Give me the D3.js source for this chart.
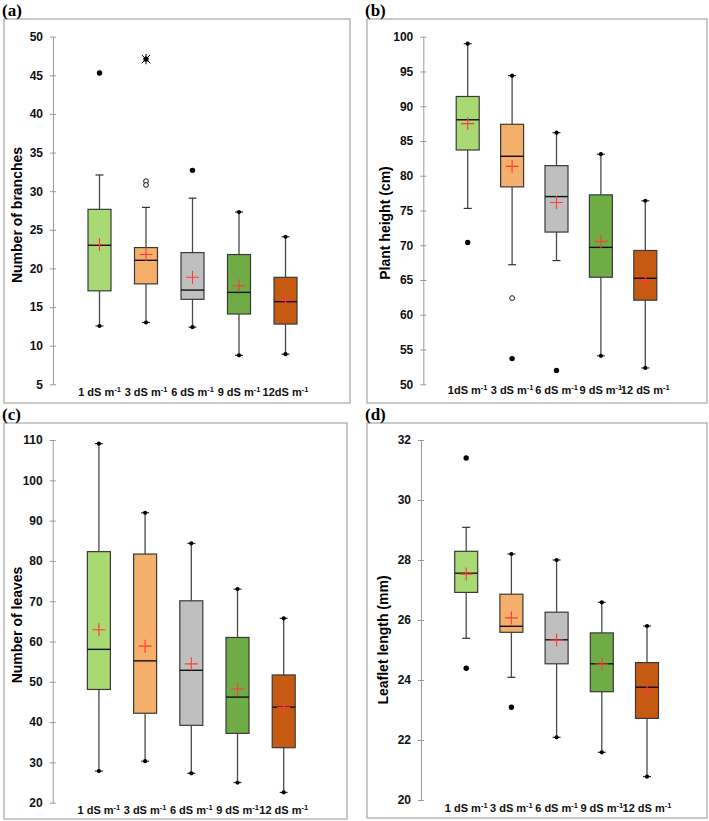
<!DOCTYPE html>
<html>
<head>
<meta charset="utf-8">
<script src="https://cdn.jsdelivr.net/npm/d3@7"></script>
<style>
body { margin: 0; background: #fff; }
svg { display: block; }
</style>
</head>
<body>
<svg id="chart" width="709" height="821"></svg>
<script>
/* salinity levels, colours */
var colours = ["#A9D972", "#F4AF6B", "#BFBFBF", "#6FAC45", "#C65A13"];
var sans = "font-family: 'Liberation Sans', Arial, sans-serif; font-weight: bold; ";

/* (a) number of branches */
var a_labels = ["1 dS m", "3 dS m", "6 dS m", "9 dS m", "12dS m"];
var a_ticks = [5, 10, 15, 20, 25, 30, 35, 40, 45, 50];
var a_lo = [12.55, 13.0, 12.4, 8.75, 8.9];
var a_q1 = [17.1, 18.0, 16.0, 14.1, 12.8];
var a_med = [23.0, 21.05, 17.2, 16.9, 15.7];
var a_q3 = [27.65, 22.7, 22.05, 21.8, 18.85];
var a_hi = [32.1, 27.9, 29.1, 27.3, 24.1];
var a_mean = [23.1, 21.8, 18.85, 17.75, 15.9];
var a_min = [12.55, 13.0, 12.4, 8.75, 8.9];
var a_max = [45.3, 47.1, 32.7, 27.3, 24.1];
var a_out = [[], [31.3, 30.8], [], [], []];
var a_ext = [[], [47.1], [], [], []];

/* (b) plant height */
var b_labels = ["1dS m", "3 dS m", "6 dS m", "9 dS m", "12 dS m"];
var b_ticks = [50, 55, 60, 65, 70, 75, 80, 85, 90, 95, 100];
var b_lo = [75.3, 67.2, 67.8, 54.1, 52.35];
var b_q1 = [83.7, 78.4, 71.9, 65.4, 62.1];
var b_med = [88.05, 82.8, 77.0, 69.7, 65.25];
var b_q3 = [91.4, 87.4, 81.45, 77.25, 69.25];
var b_hi = [99.0, 94.4, 86.2, 83.1, 76.4];
var b_mean = [87.5, 81.35, 76.15, 70.55, 64.9];
var b_min = [70.4, 53.7, 52.0, 54.1, 52.35];
var b_max = [99.0, 94.4, 86.2, 83.1, 76.4];
var b_out = [[], [62.4], [], [], []];
var b_ext = [[], [], [], [], []];

/* (c) number of leaves */
var c_labels = ["1 dS m", "3 dS m", "6 dS m", "9 dS m", "12 dS m"];
var c_ticks = [20, 30, 40, 50, 60, 70, 80, 90, 100, 110];
var c_lo = [27.85, 30.3, 27.3, 25.0, 22.55];
var c_q1 = [48.1, 42.2, 39.2, 37.2, 33.65];
var c_med = [58.05, 55.2, 52.85, 46.2, 43.7];
var c_q3 = [82.3, 81.7, 70.1, 61.0, 51.7];
var c_hi = [109.1, 91.95, 84.35, 73.0, 65.75];
var c_mean = [62.9, 58.85, 54.45, 48.2, 43.6];
var c_min = [27.85, 30.3, 27.3, 25.0, 22.55];
var c_max = [109.1, 91.95, 84.35, 73.0, 65.75];
var c_out = [[], [], [], [], []];
var c_ext = [[], [], [], [], []];

/* (d) leaflet length */
var d_labels = ["1 dS m", "3 dS m", "6 dS m", "9 dS m", "12 dS m"];
var d_ticks = [20, 22, 24, 26, 28, 30, 32];
var d_lo = [25.39, 24.09, 22.09, 21.59, 20.78];
var d_q1 = [26.92, 25.59, 24.54, 23.61, 22.72];
var d_med = [27.56, 25.79, 25.34, 24.54, 23.76];
var d_q3 = [28.29, 26.86, 26.26, 25.57, 24.58];
var d_hi = [29.09, 28.2, 28.0, 26.59, 25.8];
var d_mean = [27.53, 26.07, 25.33, 24.53, 23.63];
var d_min = [24.39, 23.09, 22.09, 21.59, 20.78];
var d_max = [31.4, 28.2, 28.0, 26.59, 25.8];
var d_out = [[], [], [], [], []];
var d_ext = [[], [], [], [], []];

var svg = d3.select("#chart");

function draw_panel(p){
	var g = svg.append("g");

	g.append("rect")
		.attr("x", p.frame[0]).attr("y", p.frame[1])
		.attr("width", p.frame[2]).attr("height", p.frame[3])
		.attr("fill", "none").attr("stroke", "#a6a6a6").attr("stroke-width", 1.2);

	g.append("text")
		.attr("x", p.frame[0] - 2).attr("y", p.frame[1] - 3.5)
		.attr("style", "font-family: 'Liberation Serif'; font-weight: bold; font-size: 17px")
		.text(p.tag);

	var y = d3.scaleLinear().domain(d3.extent(p.ticks)).range([p.ybot, p.ytop]);
	var x = d3.scalePoint().domain(d3.range(5)).range([p.ax, p.xend]).padding(1);

	var axis = g.append("g")
		.attr("transform", "translate(" + p.ax + ",0)")
		.call(d3.axisLeft(y).tickValues(p.ticks).tickSizeInner(3).tickSizeOuter(0).tickPadding(7));
	axis.select(".domain").attr("stroke", "#9a9a9a");
	axis.selectAll(".tick line").attr("stroke", "#9a9a9a").attr("x1", 3);
	axis.selectAll(".tick text")
		.attr("style", sans + "font-size: 12px")
		.attr("fill", "#111");

	g.append("text")
		.attr("transform", "translate(" + p.tx + "," + p.ty + ")rotate(-90)")
		.attr("text-anchor", "middle")
		.attr("dy", "0.35em")
		.attr("style", sans + "font-size: 14px")
		.text(p.title);

	var bw = 23, cap = 4;
	for (var i = 0; i < 5; i += 1){
		var cx = x(i);
		// whiskers
		g.append("line")
			.attr("x1", cx).attr("x2", cx)
			.attr("y1", y(p.hi[i])).attr("y2", y(p.q3[i]))
			.attr("stroke", "#4a4a4a").attr("stroke-width", 1.3);
		g.append("line")
			.attr("x1", cx).attr("x2", cx)
			.attr("y1", y(p.q1[i])).attr("y2", y(p.lo[i]))
			.attr("stroke", "#4a4a4a").attr("stroke-width", 1.3);
		[p.hi[i], p.lo[i]].forEach(function(v){
			g.append("line")
				.attr("x1", cx - cap).attr("x2", cx + cap)
				.attr("y1", y(v)).attr("y2", y(v))
				.attr("stroke", "#333").attr("stroke-width", 1.2);
		});
		// box
		g.append("rect")
			.attr("x", cx - bw/2).attr("width", bw)
			.attr("y", y(p.q3[i])).attr("height", y(p.q1[i]) - y(p.q3[i]))
			.attr("fill", colours[i]).attr("stroke", "#3a3a3a").attr("stroke-width", 1.2);
		g.append("line")
			.attr("x1", cx - bw/2).attr("x2", cx + bw/2)
			.attr("y1", y(p.med[i])).attr("y2", y(p.med[i]))
			.attr("stroke", "#111").attr("stroke-width", 1.4);
		// mean
		var my = y(p.mean[i]);
		g.append("path")
			.attr("d", "M" + (cx - 6.5) + "," + my + "H" + (cx + 6.5) + "M" + cx + "," + (my - 6.5) + "V" + (my + 6.5))
			.attr("stroke", "#ff3b3b").attr("stroke-width", 1.1).attr("fill", "none");
		// min and max
		[p.min[i], p.max[i]].forEach(function(v){
			var atEnd = (v == p.lo[i] || v == p.hi[i]);
			g.append("circle")
				.attr("cx", cx).attr("cy", y(v))
				.attr("r", atEnd ? 2.1 : 2.7)
				.attr("fill", "#000");
		});
		p.out[i].forEach(function(v){
			g.append("circle")
				.attr("cx", cx).attr("cy", y(v)).attr("r", 2.4)
				.attr("fill", "#fff").attr("stroke", "#000").attr("stroke-width", 0.9);
		});
		p.ext[i].forEach(function(v){
			var ey = y(v), s = 4.2;
			g.append("path")
				.attr("d", "M" + (cx - s) + "," + (ey - s) + "L" + (cx + s) + "," + (ey + s) +
					"M" + (cx + s) + "," + (ey - s) + "L" + (cx - s) + "," + (ey + s) +
					"M" + cx + "," + (ey - s - 1) + "V" + (ey + s + 1))
				.attr("stroke", "#000").attr("stroke-width", 1).attr("fill", "none");
		});
		// category label
		var t = g.append("text")
			.attr("x", cx).attr("y", p.ly)
			.attr("text-anchor", "middle")
			.attr("style", sans + "font-size: 11px")
			.attr("fill", "#111");
		t.append("tspan").text(p.labels[i]);
		t.append("tspan").attr("dy", -4).attr("font-size", "7.5px").text("-1");
	}
}

draw_panel({tag: "(a)", frame: [4, 19, 346, 384], ax: 53, xend: 332, ytop: 36.7, ybot: 384.3,
	ly: 396, tx: 17, ty: 215, title: "Number of branches", ticks: a_ticks, labels: a_labels,
	lo: a_lo, q1: a_q1, med: a_med, q3: a_q3, hi: a_hi, mean: a_mean, min: a_min, max: a_max, out: a_out, ext: a_ext});

draw_panel({tag: "(b)", frame: [367, 19, 340, 384], ax: 423.3, xend: 689.7, ytop: 36.7, ybot: 384.3,
	ly: 394, tx: 385, ty: 223, title: "Plant height (cm)", ticks: b_ticks, labels: b_labels,
	lo: b_lo, q1: b_q1, med: b_med, q3: b_q3, hi: b_hi, mean: b_mean, min: b_min, max: b_max, out: b_out, ext: b_ext});

draw_panel({tag: "(c)", frame: [4, 423, 343, 396], ax: 52.7, xend: 329.9, ytop: 440, ybot: 802.7,
	ly: 814, tx: 17, ty: 625, title: "Number of leaves", ticks: c_ticks, labels: c_labels,
	lo: c_lo, q1: c_q1, med: c_med, q3: c_q3, hi: c_hi, mean: c_mean, min: c_min, max: c_max, out: c_out, ext: c_ext});

draw_panel({tag: "(d)", frame: [367, 423, 340, 395], ax: 421, xend: 692.2, ytop: 440, ybot: 800,
	ly: 812, tx: 383, ty: 640, title: "Leaflet length (mm)", ticks: d_ticks, labels: d_labels,
	lo: d_lo, q1: d_q1, med: d_med, q3: d_q3, hi: d_hi, mean: d_mean, min: d_min, max: d_max, out: d_out, ext: d_ext});
</script>
</body>
</html>
